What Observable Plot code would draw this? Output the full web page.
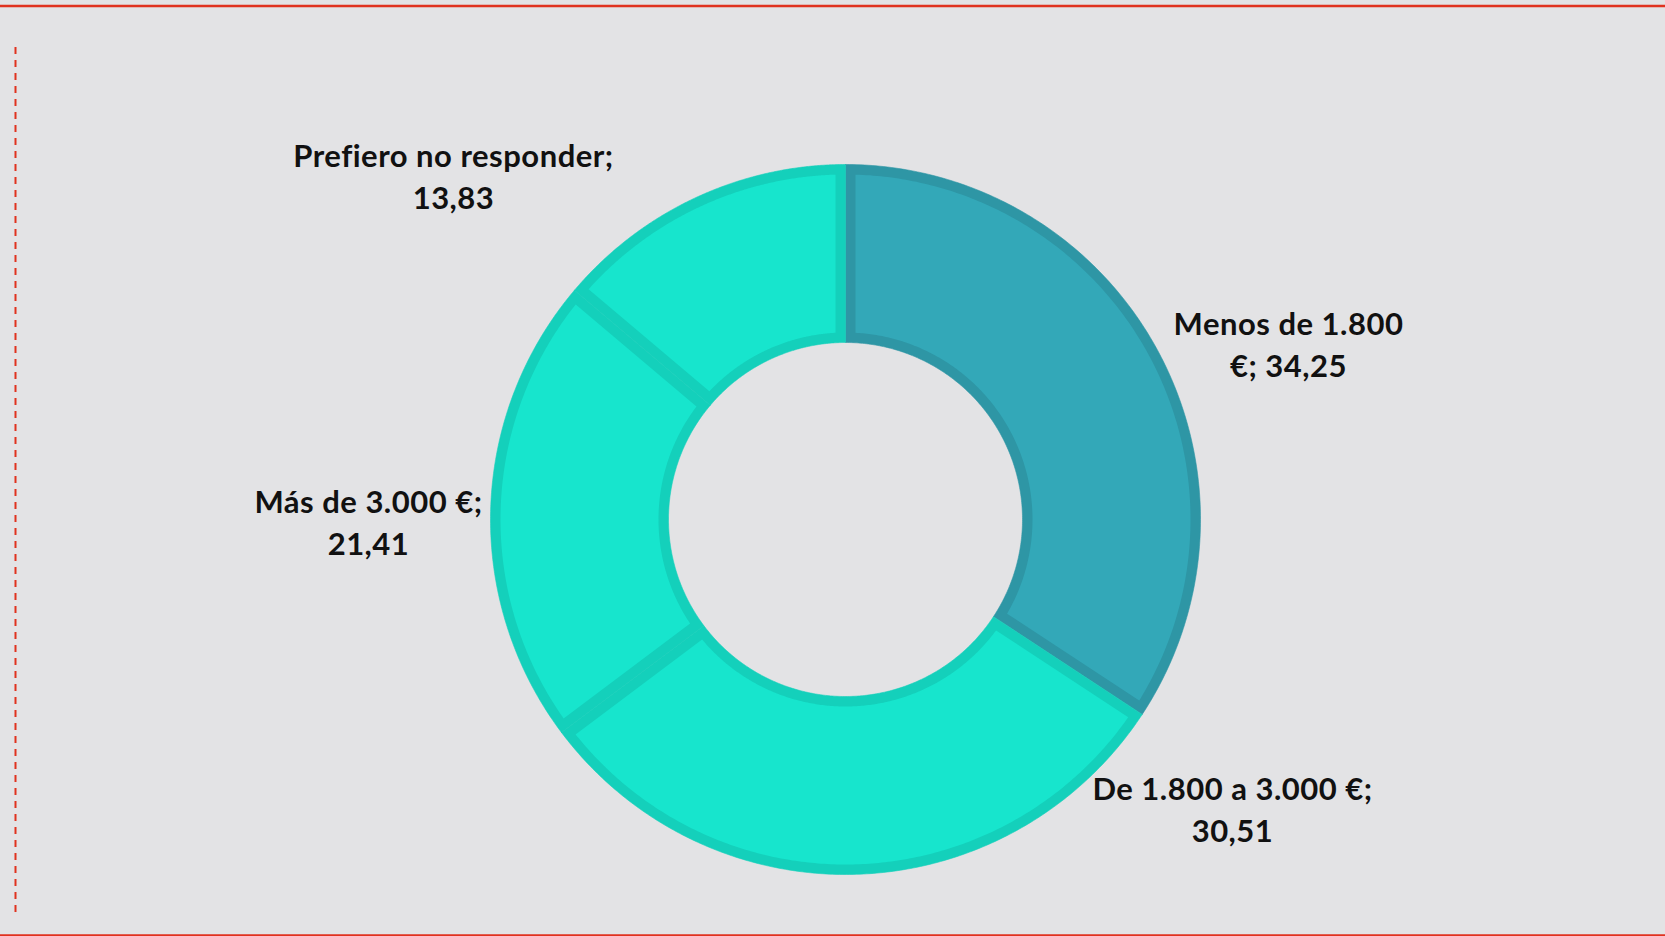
<!DOCTYPE html>
<html>
<head>
<meta charset="utf-8">
<script src="https://cdn.jsdelivr.net/npm/d3@7"></script>
<script src="https://cdn.jsdelivr.net/npm/@observablehq/plot@0.6"></script>
<style>
  html, body { margin: 0; padding: 0; background: #e3e3e5; }
  #chart svg { display: block; }
  #chart svg text { letter-spacing: 0.5px; }
</style>
</head>
<body>
<div id="chart"></div>
<script>
// ---- data ----
const categories = ["Menos de 1.800 €", "De 1.800 a 3.000 €", "Más de 3.000 €", "Prefiero no responder"];
const values = [34.25, 30.51, 21.41, 13.83];
const valueLabels = ["34,25", "30,51", "21,41", "13,83"];
const fillColors = ["#33a8b8", "#17e5cd", "#17e5cd", "#17e5cd"];
const borderColors = ["#2e96a5", "#14d0bb", "#14d0bb", "#14d0bb"];
// label text (as shown, with line breaks)
const labelTexts = ["Menos de 1.800\n€; 34,25", "De 1.800 a 3.000 €;\n30,51", "Más de 3.000 €;\n21,41", "Prefiero no responder;\n13,83"];

// ---- layout ----
const W = 1665, H = 936;
const cx = 845, cy = 519, R = 355, r0 = 177, bw = 10;
const labelAt = [[1288, 342], [1232, 807], [368, 520], [453, 174]];

const total = d3.sum(values);
const pie = [];
let acc = 0;
values.forEach((v, i) => {
  const a0 = acc / total * 2 * Math.PI;
  acc += v;
  const a1 = acc / total * 2 * Math.PI;
  pie.push({i, a0, a1});
});

function ring(a0, a1, rOut, rIn, d) {
  const pts = [];
  const oo = Math.asin(Math.min(1, d / rOut)), oi = Math.asin(Math.min(1, d / rIn));
  const n = 200;
  const s0 = a0 + oo, s1 = a1 - oo;
  for (let k = 0; k <= n; k++) {
    const a = s0 + (s1 - s0) * k / n;
    pts.push([cx + rOut * Math.sin(a), cy - rOut * Math.cos(a)]);
  }
  const t0 = a0 + oi, t1 = a1 - oi;
  for (let k = n; k >= 0; k--) {
    const a = t0 + (t1 - t0) * k / n;
    pts.push([cx + rIn * Math.sin(a), cy - rIn * Math.cos(a)]);
  }
  pts.push(pts[0]);
  return pts;
}

const outerPts = [], innerPts = [];
pie.forEach(p => {
  ring(p.a0, p.a1, R, r0, 0).forEach(([x, y]) => outerPts.push({key: categories[p.i], x, y, c: borderColors[p.i]}));
  ring(p.a0, p.a1, R - bw, r0 + bw, bw).forEach(([x, y]) => innerPts.push({key: categories[p.i], x, y, c: fillColors[p.i]}));
});

const labels = categories.map((c, i) => ({text: labelTexts[i], x: labelAt[i][0], y: labelAt[i][1]}));

const red = "#e0321f";
const chart = Plot.plot({
  width: W, height: H,
  margin: 0,
  style: {background: "#e3e3e5"},
  x: {domain: [0, W], range: [0, W], axis: null},
  y: {domain: [0, H], range: [0, H], axis: null},
  color: {type: "identity"},
  marks: [
    Plot.line(outerPts, {x: "x", y: "y", z: "key", fill: "c", stroke: "c", strokeWidth: 0.6, curve: "linear"}),
    Plot.line(innerPts, {x: "x", y: "y", z: "key", fill: "c", stroke: "none", curve: "linear"}),
    Plot.text(labels, {x: "x", y: "y", text: "text", fontSize: 31, fontWeight: "bold",
      fontFamily: "Lato, 'Open Sans', sans-serif", fill: "#111", textAnchor: "middle", lineAnchor: "middle", lineHeight: 1.37}),
    Plot.ruleY([5.5], {stroke: red, strokeWidth: 2.5}),
    Plot.ruleY([935], {stroke: red, strokeWidth: 2.5}),
    Plot.ruleX([15], {y1: 47, y2: 916, stroke: red, strokeWidth: 2, strokeDasharray: "7,6"})
  ]
});
document.getElementById("chart").appendChild(chart);
</script>
</body>
</html>
